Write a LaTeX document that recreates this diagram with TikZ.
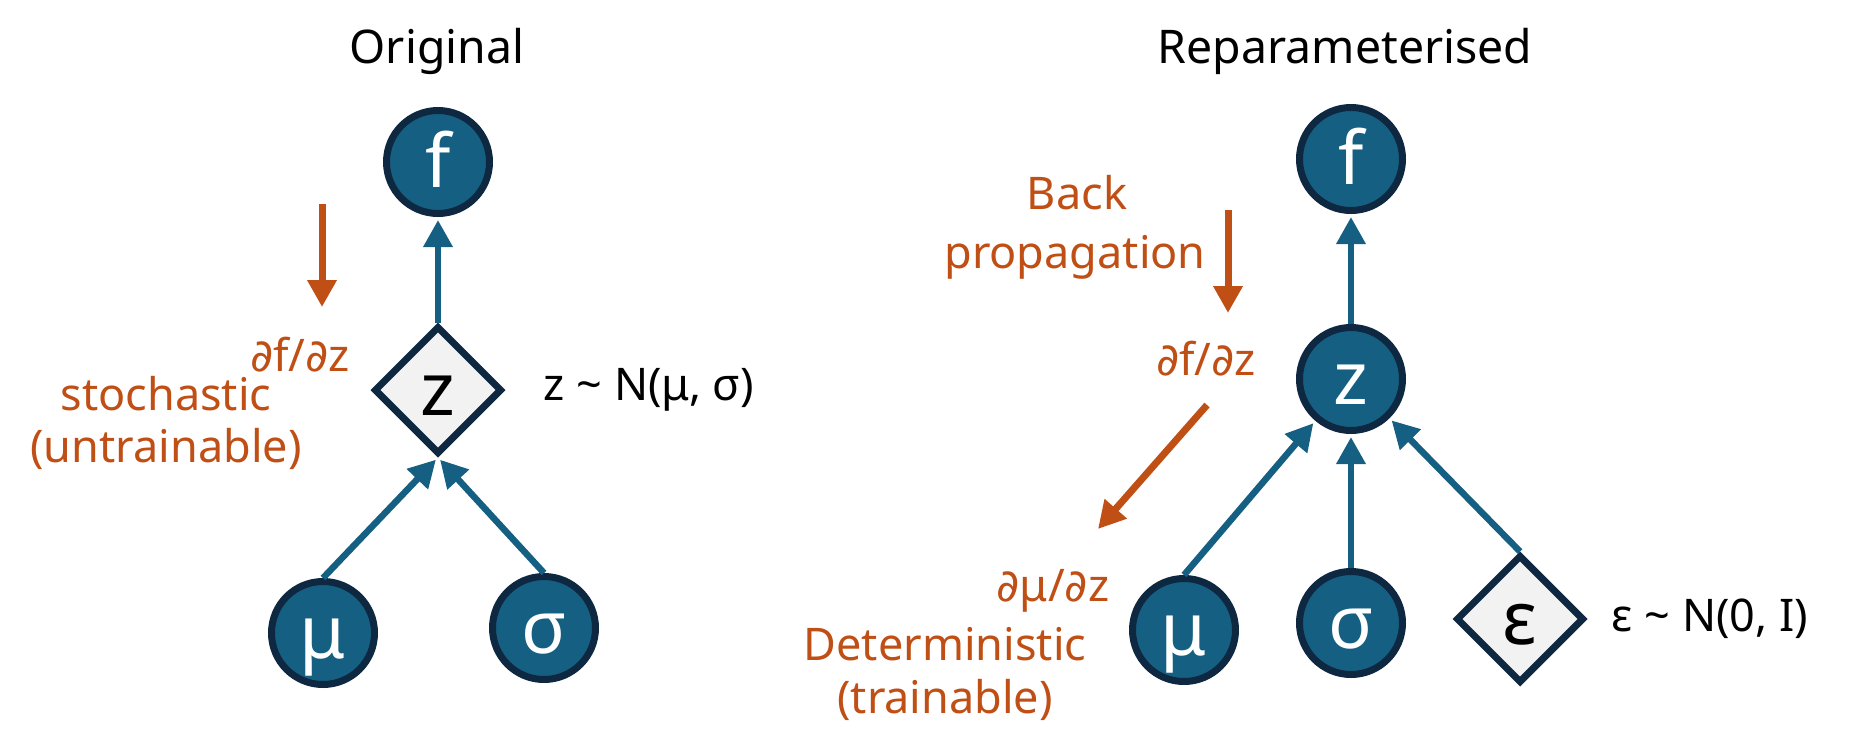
\documentclass[tikz,border=0pt]{standalone}
\usepackage{fontspec}
\setmainfont{Noto Sans}
\newfontfamily\dejavu{DejaVu Sans}
\newcommand{\dpart}{{\dejavu ∂}}
\usetikzlibrary{positioning}
\usetikzlibrary{shapes.geometric}
\usetikzlibrary{arrows.meta}

\begin{document}
\begin{tikzpicture}
    \useasboundingbox (0,0) rectangle (18.55,-7.56);

    % Farben
    \definecolor{Knoten_blau}{RGB}{21,96,130}
    \definecolor{Knoten_rand}{RGB}{14,40,65}
    \definecolor{Raute_grau}{RGB}{242,242,242}
    \definecolor{Grad_orange}{RGB}{192,79,21}

    \tikzset{
        knoten/.style={circle, draw=Knoten_rand, line width=0.07cm, fill=Knoten_blau, minimum size=1.03cm, inner sep=0pt, text=white, text height=0.55cm, text depth=0.05cm, font=\fontsize{21}{21}\selectfont},
        raute/.style={diamond, aspect=1, draw=Knoten_rand, line width=0.07cm, fill=Raute_grau, minimum size=1.28cm, inner sep=0pt, text height=0.55cm, text depth=0.05cm, font=\fontsize{21}{21}\selectfont},
        pfeil/.style={-{Triangle[width=0.28cm,length=0.27cm]}, draw=Knoten_blau, line width=0.065cm, shorten >=0.03cm},
        gradpfeil/.style={-{Triangle[width=0.28cm,length=0.27cm]}, draw=Grad_orange, line width=0.07cm},
        beschr/.style={anchor=base, font=\fontsize{12.8}{15}\selectfont},
        gradtext/.style={beschr, text=Grad_orange}
    }

    % Ueberschriften
    \node[beschr, font=\fontsize{13.2}{15}\selectfont] (titelOrig) at (4.37,-0.63) {Original};
    \node[beschr, font=\fontsize{13.2}{15}\selectfont] (titelRep) at (13.45,-0.63) {Reparameterised};

    % Original: Knoten
    \node[knoten] (fOrig) at (4.38,-1.62) {f};
    \node[raute] (zOrig) at (4.38,-3.90) {z};
    \node[knoten] (muOrig) at (3.23,-6.33) {μ};
    \node[knoten] (sigmaOrig) at (5.44,-6.28) {σ};

    % Reparametrisiert: Knoten
    \node[knoten] (fRep) at (13.51,-1.59) {f};
    \node[knoten] (zRep) at (13.51,-3.79) {z};
    \node[knoten] (muRep) at (11.84,-6.30) {μ};
    \node[knoten] (sigmaRep) at (13.51,-6.23) {σ};
    \node[raute] (epsRep) at (15.20,-6.19) {ε};

    % Verbindungen links
    \draw[pfeil] (zOrig.north) -- (fOrig.south);
    \foreach \n in {muOrig, sigmaOrig} {
        \draw[pfeil] (\n.north) -- (zOrig.south);
    }

    % Verbindungen rechts
    \draw[pfeil] (zRep.north) -- (fRep.south);
    \foreach \n in {muRep, sigmaRep, epsRep} {
        \draw[pfeil] (\n.north) -- (zRep);
    }

    % Gradientenpfeile
    \coordinate (gradObenL) at (3.22,-2.04);
    \coordinate (gradUntenL) at (3.22,-3.07);
    \coordinate (gradObenR) at (12.28,-2.10);
    \coordinate (gradUntenR) at (12.28,-3.13);
    \coordinate (gradStartR) at (12.07,-4.05);
    \coordinate (gradEndeR) at (10.98,-5.29);
    \draw[gradpfeil] (gradObenL) -- (gradUntenL);
    \draw[gradpfeil] (gradObenR) -- (gradUntenR);
    \draw[gradpfeil] (gradStartR) -- (gradEndeR);

    % Beschriftungen links
    \node[gradtext] (dfdzOrig) at (3.00,-3.71) {\dpart f/\dpart z};
    \node[gradtext] (stochTxt) at (1.66,-4.10) {stochastic};
    \node[gradtext] (untrainTxt) at (1.66,-4.62) {(untrainable)};
    \node[font=\fontsize{12.8}{15}\selectfont] (verteilungOrig) [right=0.26cm of zOrig] {z \textasciitilde{} N(μ, σ)};

    % Beschriftungen rechts
    \node[gradtext] (backTxt) at (10.77,-2.09) {Back};
    \node[gradtext] (propTxt) at (10.75,-2.68) {propagation};
    \node[gradtext] (dfdzRep) at (12.06,-3.75) {\dpart f/\dpart z};
    \node[gradtext] (dmudzRep) at (10.53,-6.01) {\dpart μ/\dpart z};
    \node[gradtext] (determTxt) at (9.45,-6.60) {Deterministic};
    \node[gradtext] (trainTxt) at (9.45,-7.13) {(trainable)};
    \node[font=\fontsize{12.8}{15}\selectfont] (verteilungRep) [right=0.12cm of epsRep] {ε \textasciitilde{} N(0, \textbf{I})};

\end{tikzpicture}
\end{document}
